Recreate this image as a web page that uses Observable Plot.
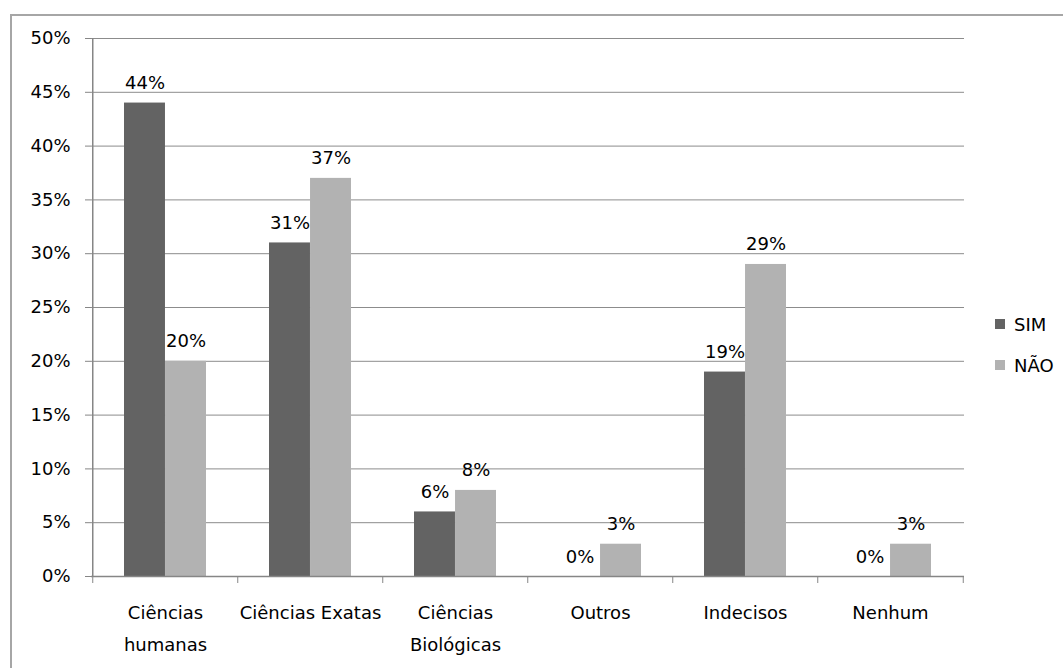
<!DOCTYPE html>
<html>
<head>
<meta charset="utf-8">
<script src="https://cdn.jsdelivr.net/npm/d3@7"></script>
<script src="https://cdn.jsdelivr.net/npm/@observablehq/plot@0.6"></script>
<style>
  html, body { margin: 0; padding: 0; background: #fff; }
  #wrap { position: relative; width: 1063px; height: 668px; overflow: hidden; font-family: "DejaVu Sans", sans-serif; }
  #border { position: absolute; left: 10px; top: 14px; right: -10px; bottom: -10px; border-top: 2px solid #a6a6a6; border-left: 2px solid #a6a6a6; pointer-events: none; }
  #chart { position: absolute; left: 0; top: 0; }
  #legend { position: absolute; left: 995px; top: 312px; font-size: 18px; color: #000; }
  #legend .item { display: flex; align-items: center; height: 24px; margin-bottom: 17px; }
  #legend .sw { width: 10px; height: 10px; margin-right: 9px; }
</style>
</head>
<body>
<div id="wrap">
  <div id="chart"></div>
  <div id="border"></div>
  <div id="legend"></div>
</div>
<script>
const categories = ["Ciências humanas", "Ciências Exatas", "Ciências Biológicas", "Outros", "Indecisos", "Nenhum"];
const tickLabels = ["Ciências\nhumanas", "Ciências Exatas", "Ciências\nBiológicas", "Outros", "Indecisos", "Nenhum"];
const series = ["SIM", "NÃO"];
const simValues = [44, 31, 6, 0, 19, 0];
const naoValues = [20, 37, 8, 3, 29, 3];
const yTicks = [0, 5, 10, 15, 20, 25, 30, 35, 40, 45, 50];
const colors = ["#636363", "#b2b2b2"];

const W = 1063, H = 668, ML = 91, MR = 99, MT = 38, MB = 92;
const step = (W - ML - MR) / categories.length;
const padInner = 0.436;
const half = step * (1 - padInner) / 2;

const simData = categories.map((c, i) => ({cat: c, value: simValues[i]}));
const naoData = categories.map((c, i) => ({cat: c, value: naoValues[i]}));

const plot = Plot.plot({
  width: W, height: H,
  marginLeft: ML, marginRight: MR, marginTop: MT, marginBottom: MB,
  style: {fontFamily: "DejaVu Sans, sans-serif", fontSize: "18px", color: "#000", background: "transparent"},
  x: {domain: categories, paddingInner: padInner, paddingOuter: padInner / 2, label: null},
  y: {domain: [0, 50], label: null},
  marks: [
    Plot.ruleY(yTicks, {stroke: "#8c8c8c", strokeWidth: 1}),
    Plot.barY(simData, {x: "cat", y: "value", fill: colors[0], insetRight: half}),
    Plot.barY(naoData, {x: "cat", y: "value", fill: colors[1], insetLeft: half}),
    Plot.text(simData, {x: "cat", y: "value", text: d => d.value + "%", dx: -half / 2, dy: -14, lineAnchor: "bottom", fontSize: 18, fill: "#000"}),
    Plot.text(naoData, {x: "cat", y: "value", text: d => d.value + "%", dx: half / 2, dy: -14, lineAnchor: "bottom", fontSize: 18, fill: "#000"}),
    Plot.ruleY([0], {stroke: "#868686", strokeWidth: 1.5}),
    Plot.ruleX([categories[0]], {dx: -step / 2, stroke: "#868686", strokeWidth: 1.5}),
    Plot.axisY({ticks: yTicks, tickFormat: d => d + "%", tickSize: 6, tickPadding: 15, stroke: "#868686", fill: "#000", fontSize: 18, label: null}),
    Plot.axisX({tickSize: 7, tickFormat: () => "", dx: -step / 2, stroke: "#868686", label: null}),
    Plot.axisX({ticks: [categories[categories.length - 1]], tickSize: 7, tickFormat: () => "", dx: step / 2, stroke: "#868686", label: null}),
    Plot.axisX({tickSize: 0, tickPadding: 20, tickFormat: d => tickLabels[categories.indexOf(d)], lineHeight: 1.78, fontSize: 18, fill: "#000", label: null})
  ]
});
document.getElementById("chart").appendChild(plot);

const legend = document.getElementById("legend");
series.forEach((s, i) => {
  const item = document.createElement("div");
  item.className = "item";
  const sw = document.createElement("div");
  sw.className = "sw";
  sw.style.background = colors[i];
  const label = document.createElement("span");
  label.textContent = s;
  item.appendChild(sw);
  item.appendChild(label);
  legend.appendChild(item);
});
</script>
</body>
</html>
